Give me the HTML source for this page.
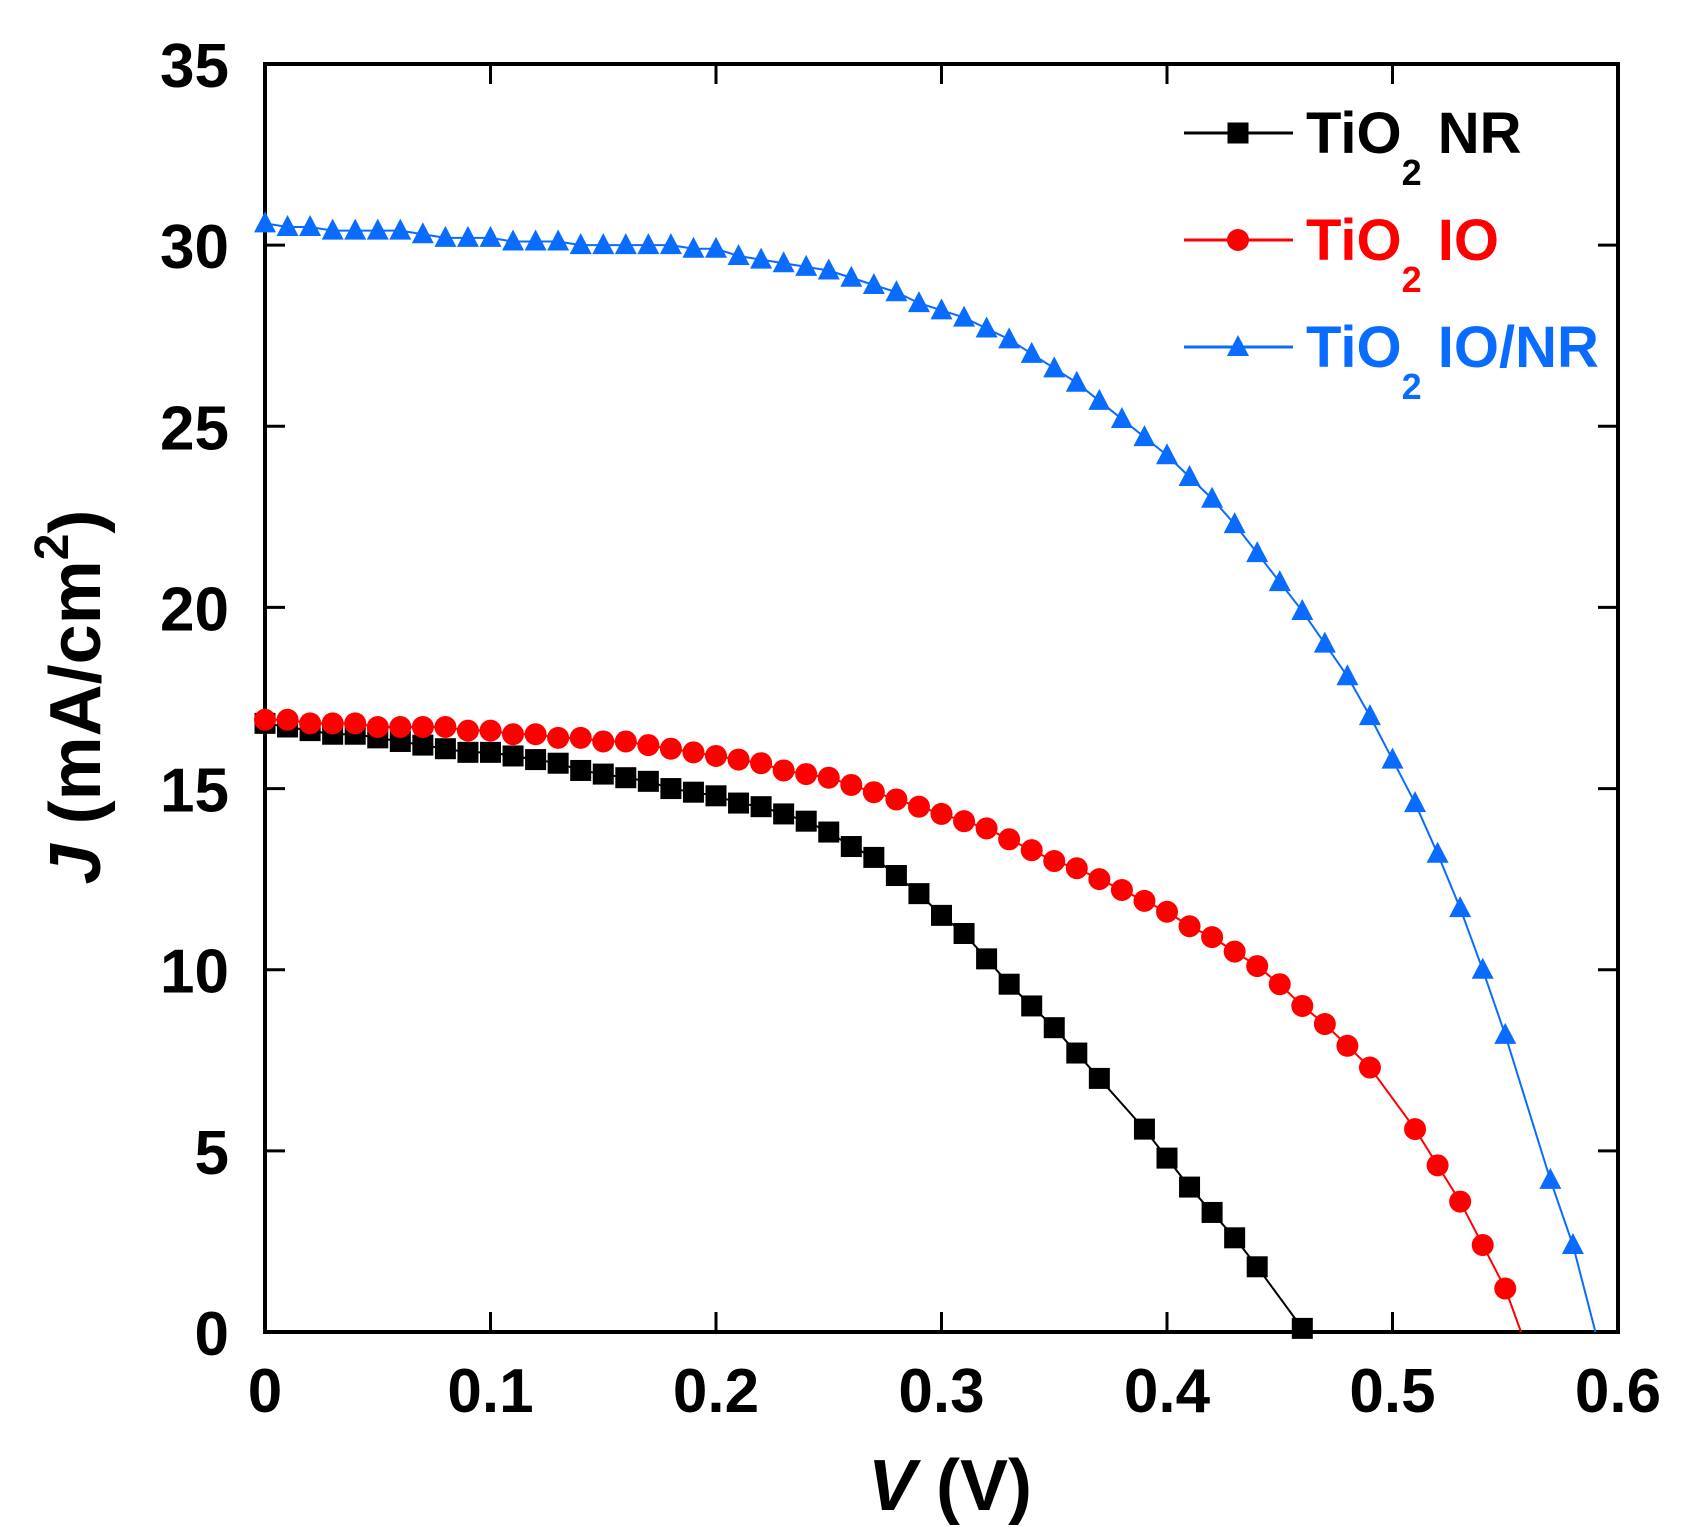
<!DOCTYPE html>
<html><head><meta charset="utf-8"><style>
html,body{margin:0;padding:0;background:#fff;}
svg{display:block;font-family:"Liberation Sans",Arial,sans-serif;}
</style></head><body>
<svg id="chart" width="1682" height="1539" viewBox="0 0 1682 1539" xmlns="http://www.w3.org/2000/svg">
<g id="axes"></g>
<g id="series"></g>
<text transform="translate(100,697) rotate(-90)" text-anchor="middle" font-size="72" font-weight="bold"><tspan font-style="italic">J</tspan> (mA/cm<tspan font-size="48" dy="-32">2</tspan><tspan dy="32">)</tspan></text>
<text x="950" y="1510" text-anchor="middle" font-size="72" font-weight="bold"><tspan font-style="italic">V</tspan> (V)</text>
<g id="legend"></g>
</svg>
<script>
const nrV=[0,0.01,0.02,0.03,0.04,0.05,0.06,0.07,0.08,0.09,0.10,0.11,0.12,0.13,0.14,0.15,0.16,0.17,0.18,0.19,0.20,0.21,0.22,0.23,0.24,0.25,0.26,0.27,0.28,0.29,0.30,0.31,0.32,0.33,0.34,0.35,0.36,0.37,0.39,0.40,0.41,0.42,0.43,0.44,0.46];
const nrJ=[16.8,16.7,16.6,16.5,16.5,16.4,16.3,16.2,16.1,16.0,16.0,15.9,15.8,15.7,15.5,15.4,15.3,15.2,15.0,14.9,14.8,14.6,14.5,14.3,14.1,13.8,13.4,13.1,12.6,12.1,11.5,11.0,10.3,9.6,9.0,8.4,7.7,7.0,5.6,4.8,4.0,3.3,2.6,1.8,0.1];
const ioV=[0,0.01,0.02,0.03,0.04,0.05,0.06,0.07,0.08,0.09,0.10,0.11,0.12,0.13,0.14,0.15,0.16,0.17,0.18,0.19,0.20,0.21,0.22,0.23,0.24,0.25,0.26,0.27,0.28,0.29,0.30,0.31,0.32,0.33,0.34,0.35,0.36,0.37,0.38,0.39,0.40,0.41,0.42,0.43,0.44,0.45,0.46,0.47,0.48,0.49,0.51,0.52,0.53,0.54,0.55];
const ioJ=[16.9,16.9,16.8,16.8,16.8,16.7,16.7,16.7,16.7,16.6,16.6,16.5,16.5,16.4,16.4,16.3,16.3,16.2,16.1,16.0,15.9,15.8,15.7,15.5,15.4,15.3,15.1,14.9,14.7,14.5,14.3,14.1,13.9,13.6,13.3,13.0,12.8,12.5,12.2,11.9,11.6,11.2,10.9,10.5,10.1,9.6,9.0,8.5,7.9,7.3,5.6,4.6,3.6,2.4,1.2];
const ioEnd=[0.557,0];
const ionrV=[0,0.01,0.02,0.03,0.04,0.05,0.06,0.07,0.08,0.09,0.10,0.11,0.12,0.13,0.14,0.15,0.16,0.17,0.18,0.19,0.20,0.21,0.22,0.23,0.24,0.25,0.26,0.27,0.28,0.29,0.30,0.31,0.32,0.33,0.34,0.35,0.36,0.37,0.38,0.39,0.40,0.41,0.42,0.43,0.44,0.45,0.46,0.47,0.48,0.49,0.50,0.51,0.52,0.53,0.54,0.55,0.57,0.58];
const ionrJ=[30.6,30.5,30.5,30.4,30.4,30.4,30.4,30.3,30.2,30.2,30.2,30.1,30.1,30.1,30.0,30.0,30.0,30.0,30.0,29.9,29.9,29.7,29.6,29.5,29.4,29.3,29.1,28.9,28.7,28.4,28.2,28.0,27.7,27.4,27.0,26.6,26.2,25.7,25.2,24.7,24.2,23.6,23.0,22.3,21.5,20.7,19.9,19.0,18.1,17.0,15.8,14.6,13.2,11.7,10.0,8.2,4.2,2.4];
const ionrEnd=[0.59,0];
const xTicks=[0,0.1,0.2,0.3,0.4,0.5,0.6];
const xTickLabels=["0","0.1","0.2","0.3","0.4","0.5","0.6"];
const yTicks=[0,5,10,15,20,25,30,35];
const yTickLabels=["0","5","10","15","20","25","30","35"];

const NS="http://www.w3.org/2000/svg";
const L=265,R=1618,T=64,B=1332;
const sx=v=>L+(v-0)/(0.6)*(R-L);
const sy=j=>B-(j/35)*(B-T);
function mk(tag,attrs,parent){const e=document.createElementNS(NS,tag);for(const k in attrs)e.setAttribute(k,attrs[k]);parent.appendChild(e);return e;}
const axes=document.getElementById('axes'),ser=document.getElementById('series'),leg=document.getElementById('legend');

const frame=mk('rect',{x:L,y:T,width:R-L,height:B-T,fill:'none',stroke:'#000','stroke-width':4},axes);


xTicks.forEach((v,i)=>{
  const x=sx(v);
  const t1=mk('line',{x1:x,y1:B,x2:x,y2:B-20,stroke:'#000','stroke-width':3},axes);
  
  
  const t2=mk('line',{x1:x,y1:T,x2:x,y2:T+20,stroke:'#000','stroke-width':3},axes);
  
  
  const tx=mk('text',{x:x,y:1412,'text-anchor':'middle','font-size':62,'font-weight':'bold'},axes);
  tx.textContent=xTickLabels[i];
  
  
});
yTicks.forEach((j,i)=>{
  const y=sy(j);
  const t1=mk('line',{x1:L,y1:y,x2:L+20,y2:y,stroke:'#000','stroke-width':3},axes);
  
  
  const t2=mk('line',{x1:R,y1:y,x2:R-20,y2:y,stroke:'#000','stroke-width':3},axes);
  
  
  const tx=mk('text',{x:229,y:y+23,'text-anchor':'end','font-size':62,'font-weight':'bold'},axes);
  tx.textContent=yTickLabels[i];
  
  
});

function marker(type,x,y,color,g){
  let e;
  if(type==='sq') e=mk('rect',{x:x-10.5,y:y-10.5,width:21,height:21,fill:color},g);
  else if(type==='ci') e=mk('circle',{cx:x,cy:y,r:11,fill:color},g);
  else e=mk('polygon',{points:`${x},${y-12} ${x+11},${y+9} ${x-11},${y+9}`,fill:color},g);
  return e;
}
function series(name,V,J,end,color,type){
  const g=mk('g',{},ser);
  
  
  let pts=V.map((v,i)=>sx(v)+','+sy(J[i]));
  if(end) pts.push(sx(end[0])+','+sy(end[1]));
  const pl=mk('polyline',{points:pts.join(' '),fill:'none',stroke:color,'stroke-width':2},g);
  
  
  V.forEach((v,i)=>{
    const m=marker(type,sx(v),sy(J[i]),color,g);
    
    
  });
}
series('tio2-nr',nrV,nrJ,null,'#000000','sq');
series('tio2-io',ioV,ioJ,ioEnd,'#ff0000','ci');
series('tio2-io-nr',ionrV,ionrJ,ionrEnd,'#0a6cff','tr');

const legItems=[['TiO','NR','#000000','sq',133],['TiO','IO','#ff0000','ci',240],['TiO','IO/NR','#0a6cff','tr',347]];
legItems.forEach(it=>{
  const g=mk('g',{},leg);
  
  
  mk('line',{x1:1184,y1:it[4],x2:1293,y2:it[4],stroke:it[2],'stroke-width':3},g);
  marker(it[3],1238,it[4],it[2],g);
  const t=mk('text',{x:1306,y:it[4]+20,'font-size':58,'font-weight':'bold',fill:it[2]},g);
  t.innerHTML=it[0]+'<tspan font-size="36" dy="32">2</tspan><tspan dy="-32"> '+it[1]+'</tspan>';
});
</script>
</body></html>
